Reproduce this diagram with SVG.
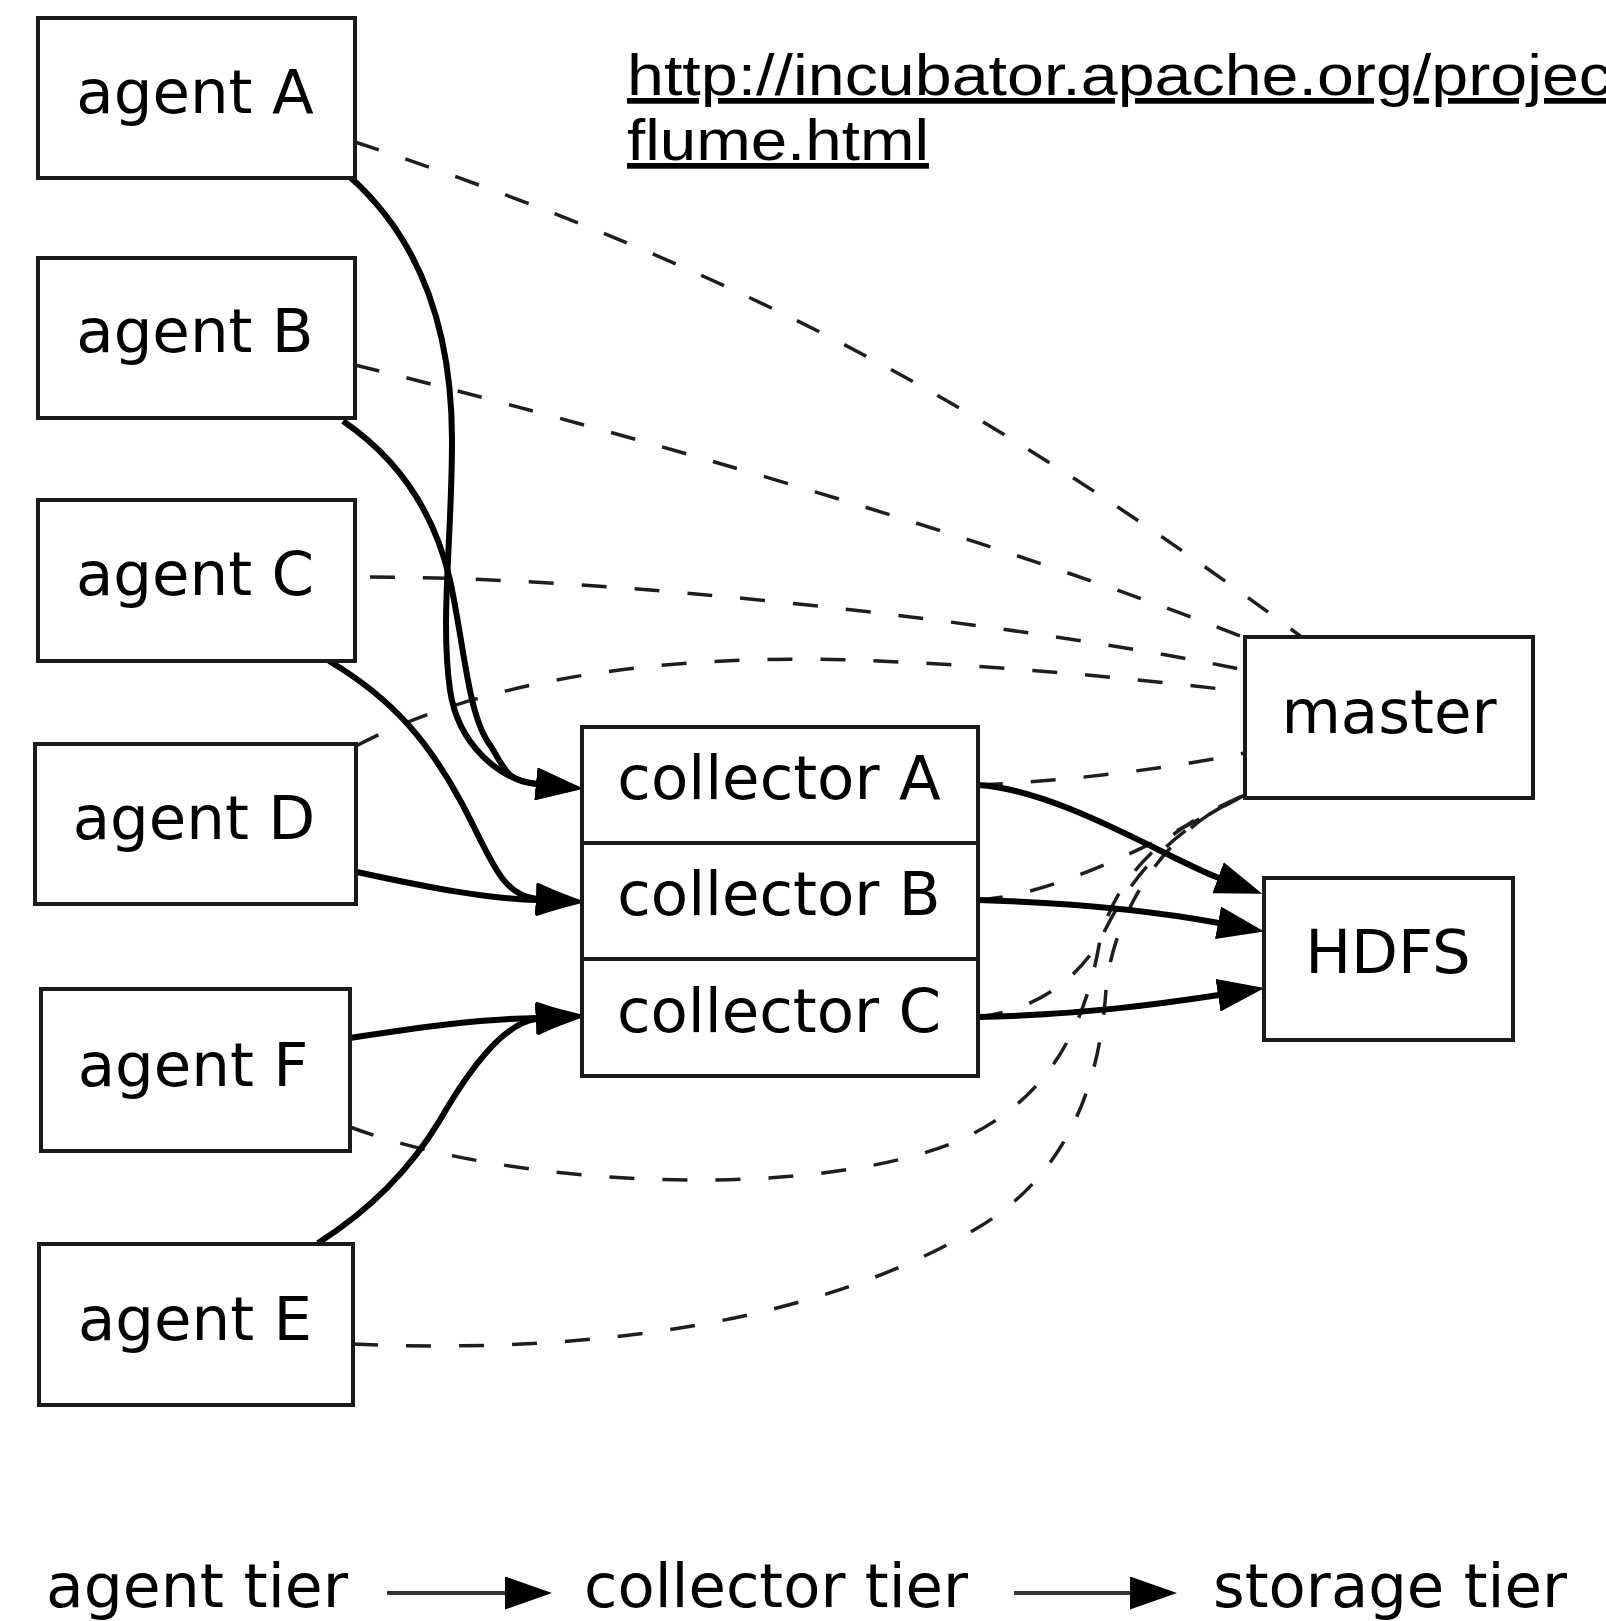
<svg xmlns="http://www.w3.org/2000/svg" width="1606" height="1621" viewBox="0 0 1606 1621">
<style>
.box{fill:#fff;stroke:#1a1a1a;stroke-width:4}
.lbl{font-family:"DejaVu Sans",sans-serif;font-size:61px;fill:#000;text-anchor:middle}
.solid{fill:none;stroke:#000;stroke-width:6}
.dash{fill:none;stroke:#1e1e1e;stroke-width:3.5;stroke-dasharray:25,28}
.url{font-family:"Liberation Sans",Arial,sans-serif;font-size:57px;fill:#000;text-decoration:underline}
.leg{font-family:"DejaVu Sans",sans-serif;font-size:60px;fill:#000}
</style>
<defs>
<marker id="ah" markerUnits="userSpaceOnUse" markerWidth="47" markerHeight="33" viewBox="0 0 47 33" refX="1" refY="16.5" orient="auto">
<path d="M0,0 L47,16.5 L0,33 Z" fill="#000"/>
</marker>
</defs>
<rect width="1606" height="1621" fill="#fff"/>

<g id="connectors">
<!-- dashed control links to master -->
<path class="dash" d="M355,142 C 755,274 1010,420 1303,638"/>
<path class="dash" d="M355,365 C 600,425 1000,540 1245,638"/>
<path class="dash" d="M370,577 C 610,577 1000,620 1245,670"/>
<path class="dash" d="M356,746 C 500,670 700,655 850,660 C 1000,665 1150,680 1245,692"/>
<path class="dash" d="M978,785 C 1050,782 1150,772 1245,753"/>
<path class="dash" d="M978,900 C 1060,895 1170,835 1245,795"/>
<path class="dash" d="M978,1017 C 1040,1010 1080,975 1100,940 C 1120,900 1150,840 1245,795"/>
<path class="dash" d="M350,1127 C 520,1190 820,1200 960,1140 C 1060,1095 1088,1010 1100,940 C 1115,880 1160,830 1245,795"/>
<path class="dash" d="M353,1344 C 600,1355 820,1320 974,1230 C 1070,1175 1100,1080 1106,990 C 1112,920 1160,830 1245,795"/>
<!-- data flow -->
<path class="solid" marker-end="url(#ah)" d="M350,177 C 415,235 452,320 452,440 C 452,540 440,620 450,690 C 458,745 500,780 537,784"/>
<path class="solid" marker-end="url(#ah)" d="M343,421 C 400,460 435,515 450,580 C 465,650 468,715 490,745 C 505,768 505,781 537,784"/>
<path class="solid" marker-end="url(#ah)" d="M329,661 C 395,700 430,745 460,800 C 490,855 500,896 537,899"/>
<path class="solid" marker-end="url(#ah)" d="M357,872 C 430,888 490,899 537,900"/>
<path class="solid" marker-end="url(#ah)" d="M350,1038 C 420,1027 480,1019 537,1018"/>
<path class="solid" marker-end="url(#ah)" d="M318,1243 C 370,1210 410,1170 440,1120 C 470,1068 505,1022 537,1019"/>
<path class="solid" marker-end="url(#ah)" d="M978,785 C 1060,790 1170,860 1219,878"/>
<path class="solid" marker-end="url(#ah)" d="M978,900 C 1080,903 1160,912 1219,923"/>
<path class="solid" marker-end="url(#ah)" d="M978,1017 C 1080,1015 1160,1004 1219,995"/>
</g>

<g id="agentA"><rect class="box" x="38" y="18" width="317" height="160"/><text class="lbl" x="195" y="113">agent A</text></g>
<g id="agentB"><rect class="box" x="38" y="258" width="317" height="160"/><text class="lbl" x="195" y="352">agent B</text></g>
<g id="agentC"><rect class="box" x="38" y="500" width="317" height="161"/><text class="lbl" x="195" y="595">agent C</text></g>
<g id="agentD"><rect class="box" x="35" y="744" width="321" height="160"/><text class="lbl" x="194" y="839">agent D</text></g>
<g id="agentF"><rect class="box" x="41" y="989" width="309" height="162"/><text class="lbl" x="193" y="1086">agent F</text></g>
<g id="agentE"><rect class="box" x="39" y="1244" width="314" height="161"/><text class="lbl" x="195" y="1340">agent E</text></g>

<g id="collectorA"><rect class="box" x="582" y="727" width="396" height="116"/><text class="lbl" x="779" y="799">collector A</text></g>
<g id="collectorB"><rect class="box" x="582" y="843" width="396" height="116"/><text class="lbl" x="779" y="915">collector B</text></g>
<g id="collectorC"><rect class="box" x="582" y="959" width="396" height="117"/><text class="lbl" x="779" y="1032">collector C</text></g>

<g id="master"><rect class="box" x="1245" y="637" width="288" height="161"/><text class="lbl" x="1389" y="733">master</text></g>
<g id="HDFS"><rect class="box" x="1264" y="878" width="249" height="162"/><text class="lbl" x="1388" y="973">HDFS</text></g>

<g id="url">
<text class="url" x="627" y="95" textLength="985" lengthAdjust="spacingAndGlyphs">http://incubator.apache.org/projec</text>
<text class="url" x="627" y="160" textLength="302" lengthAdjust="spacingAndGlyphs">flume.html</text>
</g>

<g id="legend">
<text class="leg" x="46" y="1607" textLength="302" lengthAdjust="spacingAndGlyphs">agent tier</text>
<text class="leg" x="584" y="1607" textLength="384" lengthAdjust="spacingAndGlyphs">collector tier</text>
<text class="leg" x="1213" y="1607" textLength="354" lengthAdjust="spacingAndGlyphs">storage tier</text>
<path d="M387,1593 L506,1593" stroke="#333" stroke-width="4" fill="none" marker-end="url(#ah)"/>
<path d="M1014,1593 L1131,1593" stroke="#333" stroke-width="4" fill="none" marker-end="url(#ah)"/>
</g>
</svg>
